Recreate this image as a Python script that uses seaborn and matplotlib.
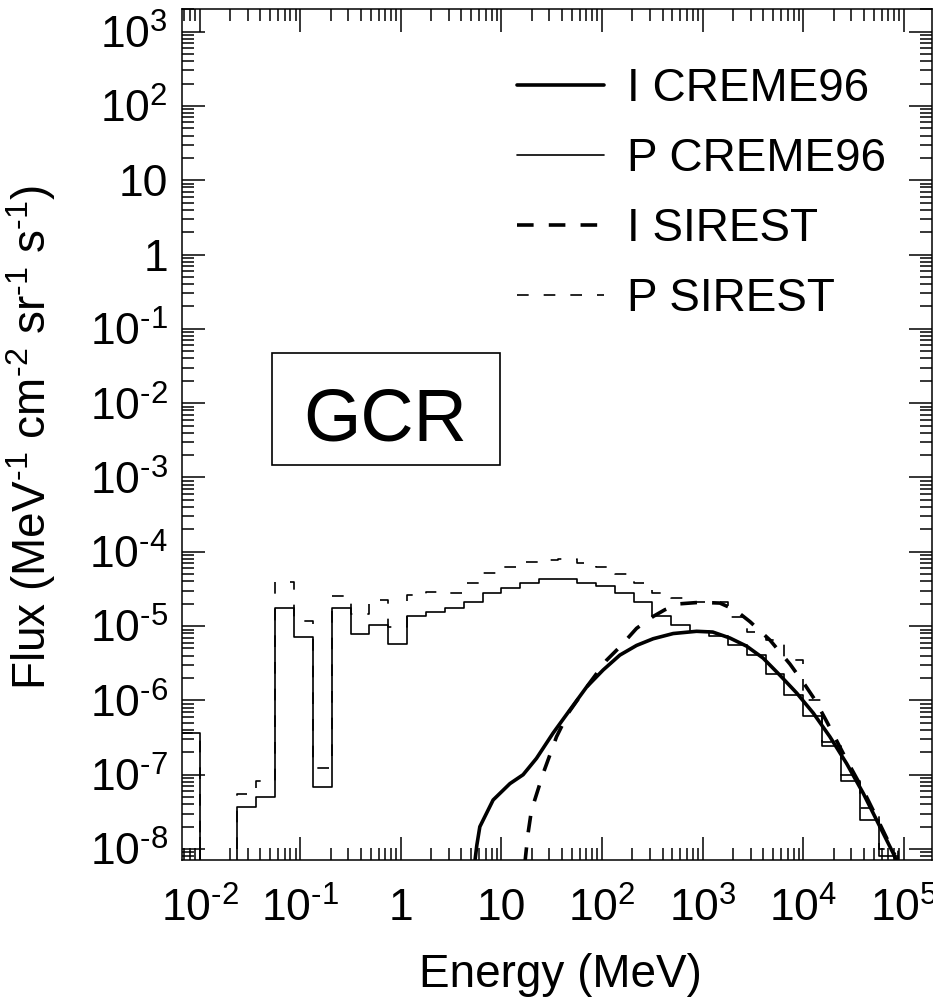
import numpy as np
import pandas as pd
import matplotlib
matplotlib.use("Agg")
import matplotlib.pyplot as plt
import seaborn as sns
from matplotlib.patches import Rectangle
from matplotlib.ticker import LogLocator, NullFormatter

# -----------------------------
# Data (log10 values)
# -----------------------------
# histogram bin edges, log10(E / MeV)
bin_edges = [-2.1875, -2.0, -1.8125, -1.625, -1.4375, -1.25, -1.0625, -0.875,
             -0.6875, -0.5, -0.3125, -0.125, 0.0625, 0.25, 0.4375, 0.625,
             0.8125, 1.0, 1.1875, 1.375, 1.5625, 1.75, 1.9375, 2.125, 2.3125,
             2.5, 2.6875, 2.875, 3.0625, 3.25, 3.4375, 3.625, 3.8125, 4.0,
             4.1875, 4.375, 4.5625, 4.75, 4.9375]

# P CREME96 histogram, log10 flux per bin (None = below the axis)
p_creme = [-6.44, None, None, -7.43, -7.30, -4.75, -5.14, -7.16, -4.76, -5.10,
           -4.99, -5.24, -4.86, -4.81, -4.76, -4.68, -4.55, -4.49, -4.42, -4.36,
           -4.36, -4.42, -4.46, -4.56, -4.68, -4.87, -4.98, -5.07, -5.13, -5.25,
           -5.39, -5.64, -5.93, -6.21, -6.62, -7.08, -7.61, -8.09]

# P SIREST histogram
p_sirest = [-6.44, None, None, -7.26, -7.08, -4.40, -4.93, -6.91, -4.60, -4.84,
            -4.65, -5.01, -4.58, -4.54, -4.55, -4.42, -4.29, -4.20, -4.14, -4.11,
            -4.10, -4.15, -4.20, -4.30, -4.42, -4.55, -4.62, -4.67, -4.68, -4.88,
            -5.08, -5.19, -5.46, -6.00, -6.56, -7.00, -7.45, -8.00]

# I CREME96 curve
i_creme_e = [0.733, 0.755, 0.785, 0.917, 1.084, 1.215, 1.348, 1.513, 1.679,
             1.846, 2.011, 2.177, 2.343, 2.508, 2.707, 2.939, 3.10, 3.27, 3.437,
             3.60, 3.767, 3.934, 4.099, 4.265, 4.431, 4.596, 4.762, 4.895, 4.93]
i_creme_f = [-8.2, -7.95, -7.70, -7.34, -7.12, -7.00, -6.78, -6.44, -6.13,
             -5.82, -5.59, -5.39, -5.26, -5.17, -5.10, -5.07, -5.08, -5.16, -5.27,
             -5.43, -5.66, -5.90, -6.17, -6.49, -6.85, -7.25, -7.70, -8.06, -8.17]

# I SIREST curve
i_sirest_e = [1.232, 1.262, 1.298, 1.415, 1.547, 1.664, 1.846, 2.044, 2.177,
              2.343, 2.508, 2.624, 2.773, 2.972, 3.171, 3.32, 3.47, 3.67, 3.867,
              4.016, 4.115, 4.235, 4.43, 4.596, 4.76, 4.91]
i_sirest_f = [-8.2, -7.81, -7.48, -6.98, -6.49, -6.17, -5.82, -5.46, -5.28,
              -5.03, -4.87, -4.78, -4.70, -4.68, -4.69, -4.78, -4.94, -5.19, -5.51,
              -5.79, -5.99, -6.29, -6.80, -7.21, -7.66, -8.08]

x_ticks = [-2, -1, 0, 1, 2, 3, 4, 5]
x_labels = [r"10$^{\text{-2}}$", r"10$^{\text{-1}}$", "1", "10", "10$^{2}$",
            "10$^{3}$", "10$^{4}$", "10$^{5}$"]
y_ticks = [3, 2, 1, 0, -1, -2, -3, -4, -5, -6, -7, -8]
y_labels = ["10$^{3}$", "10$^{2}$", "10", "1", r"10$^{\text{-1}}$",
            r"10$^{\text{-2}}$", r"10$^{\text{-3}}$", r"10$^{\text{-4}}$",
            r"10$^{\text{-5}}$", r"10$^{\text{-6}}$", r"10$^{\text{-7}}$",
            r"10$^{\text{-8}}$"]

# -----------------------------
# Style
# -----------------------------
sns.set_style("ticks")
plt.rcParams["font.family"] = ["Liberation Sans", "DejaVu Sans"]
plt.rcParams["mathtext.fontset"] = "custom"
plt.rcParams["mathtext.rm"] = "Liberation Sans"
plt.rcParams["mathtext.it"] = "Liberation Sans:italic"
plt.rcParams["mathtext.bf"] = "Liberation Sans:bold"
plt.rcParams["mathtext.sf"] = "Liberation Sans"
plt.rcParams["axes.unicode_minus"] = False
plt.rcParams["text.color"] = "black"
plt.rcParams["axes.labelcolor"] = "black"
plt.rcParams["xtick.color"] = "black"
plt.rcParams["ytick.color"] = "black"

floor = -9.0  # empty bins sit below the axis


def steps(edges, values):
    vals = [floor if v is None else v for v in values] + [floor]
    return pd.DataFrame({"E": 10.0 ** np.array(edges),
                         "F": 10.0 ** np.array(vals)})


fig = plt.figure(figsize=(9.33, 10.08), dpi=100)
ax = fig.add_axes([0.1951, 0.1468, 0.8039, 0.8443])

thick = 2.6
thin = 1.2

sns.lineplot(x=10.0 ** np.array(i_creme_e), y=10.0 ** np.array(i_creme_f),
             ax=ax, color="black", lw=thick, sort=False, estimator=None,
             label="I CREME96")
pc = steps(bin_edges, p_creme)
sns.lineplot(data=pc, x="E", y="F", ax=ax, color="black", lw=thin,
             sort=False, estimator=None, drawstyle="steps-post",
             label="P CREME96")
sns.lineplot(x=10.0 ** np.array(i_sirest_e), y=10.0 ** np.array(i_sirest_f),
             ax=ax, color="black", lw=thick, sort=False, estimator=None,
             linestyle=(0, (4.6, 4.2)), label="I SIREST")
ps = steps(bin_edges, p_sirest)
sns.lineplot(data=ps, x="E", y="F", ax=ax, color="black", lw=thin,
             sort=False, estimator=None, drawstyle="steps-post",
             linestyle=(0, (7, 9)), label="P SIREST")

ax.set_xscale("log")
ax.set_yscale("log")
ax.set_xlim(10 ** -2.175, 10 ** 5.28)
ax.set_ylim(10 ** -8.148, 10 ** 3.305)

ax.set_xticks([10.0 ** t for t in x_ticks], x_labels)
ax.set_yticks([10.0 ** t for t in y_ticks], y_labels)
ax.xaxis.set_minor_locator(LogLocator(base=10, subs=np.arange(2, 10), numticks=100))
ax.yaxis.set_minor_locator(LogLocator(base=10, subs=np.arange(2, 10), numticks=100))
ax.xaxis.set_minor_formatter(NullFormatter())
ax.yaxis.set_minor_formatter(NullFormatter())

ax.tick_params(which="both", direction="in", top=True, right=True,
               color="black", labelcolor="black", width=1.1)
ax.tick_params(which="major", length=16.5, labelsize=32)
ax.tick_params(which="minor", length=8.5)
ax.tick_params(axis="x", which="major", pad=20)
ax.tick_params(axis="y", which="major", pad=10)

for s in ax.spines.values():
    s.set_linewidth(1.1)
    s.set_color("black")

ax.set_xlabel("Energy (MeV)", fontsize=33)
ax.set_ylabel(r"Flux (MeV$^{\text{-1}}$ cm$^{\text{-2}}$ sr$^{\text{-1}}$ s$^{\text{-1}}$)",
              fontsize=33)
ax.xaxis.set_label_coords(0.504, -0.109)
ax.yaxis.set_label_coords(-0.165, 0.4965)

leg = ax.legend(loc="upper left", bbox_to_anchor=(0.4467, 0.9318),
                frameon=False, fontsize=33, borderpad=0, borderaxespad=0,
                handlelength=1.9, handletextpad=0.5, labelspacing=0.57)

ax.add_patch(Rectangle((0.12, 0.4642), 0.304, 0.1316, transform=ax.transAxes,
                       fill=False, ec="black", lw=1.2))
ax.text(0.2707, 0.4924, "GCR", transform=ax.transAxes, fontsize=53,
        ha="center", va="baseline")

plt.savefig("out.png", dpi=100)
plt.close()
